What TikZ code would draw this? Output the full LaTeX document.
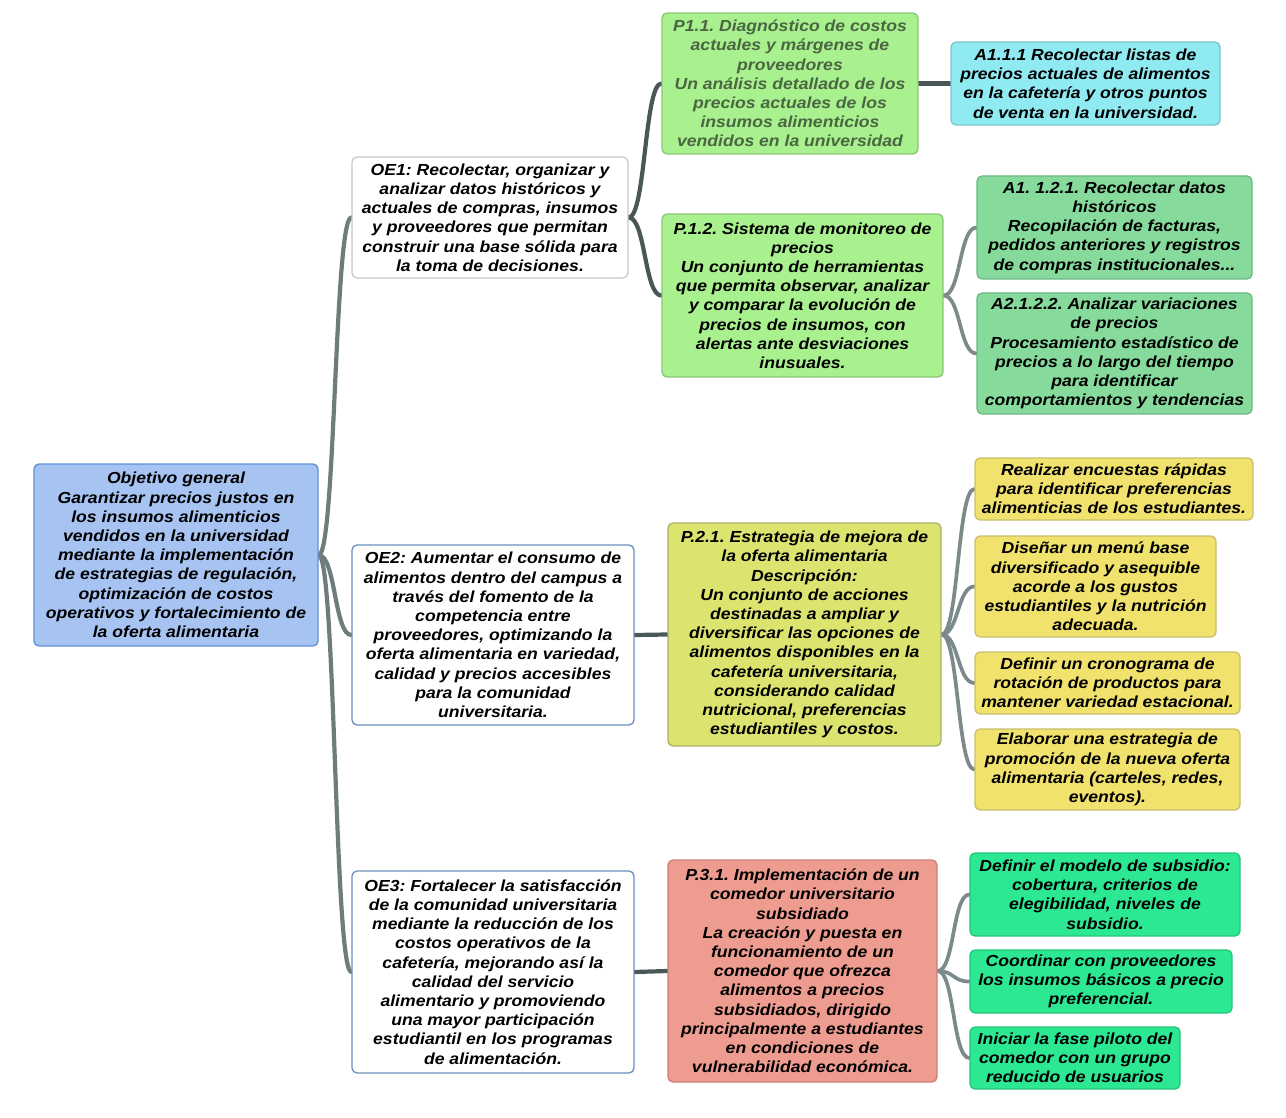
\documentclass[tikz,border=0pt]{standalone}
\usepackage{fontspec}
\setmainfont{Liberation Sans}[FakeStretch=1.1]
\usetikzlibrary{calc,backgrounds}
\frenchspacing
\definecolor{rootfill}{HTML}{A6C3F2}
\definecolor{rootdraw}{HTML}{5E8FD6}
\definecolor{oegray}{HTML}{C8C8C8}
\definecolor{oeblue}{HTML}{6A8FC0}
\definecolor{pgreen}{HTML}{A9F08E}
\definecolor{pgreend}{HTML}{8CC57A}
\definecolor{ptext}{HTML}{4A6642}
\definecolor{cyanfill}{HTML}{8FEAF2}
\definecolor{cyandraw}{HTML}{7CC3CB}
\definecolor{mgreen}{HTML}{86DA9C}
\definecolor{mgreend}{HTML}{6DB883}
\definecolor{olive}{HTML}{DCE46F}
\definecolor{olived}{HTML}{A8B06A}
\definecolor{yel}{HTML}{F0E26C}
\definecolor{yeld}{HTML}{C9BE6A}
\definecolor{salmon}{HTML}{EE9C90}
\definecolor{salmond}{HTML}{C98078}
\definecolor{spring}{HTML}{2DE893}
\definecolor{springd}{HTML}{25C479}
\definecolor{lineA}{HTML}{6F7C7E}
\definecolor{lineB}{HTML}{4A5759}
\definecolor{lineC}{HTML}{7D8A8B}
\begin{document}
\frenchspacing
\begin{tikzpicture}[x=1pt,y=-1pt,
  bx/.style={draw, rounded corners=5pt, line width=1.3pt, align=center, inner sep=0pt,
    font=\fontsize{16}{19.2}\selectfont\bfseries\itshape\frenchspacing},
  connA/.style={draw=lineA, line width=4.2pt, line cap=round},
  connB/.style={draw=lineB, line width=4.2pt, line cap=round},
  connC/.style={draw=lineC, line width=3.7pt, line cap=round}]
\useasboundingbox (0,0) rectangle (1286,1118);

\node[bx, fill=rootfill, draw=rootdraw, minimum width=284pt, minimum height=182pt] (root) at (176,555)
 {Objetivo general\\Garantizar precios justos en\\los insumos alimenticios\\vendidos en la universidad\\mediante la implementación\\de estrategias de regulación,\\optimización de costos\\operativos y fortalecimiento de\\la oferta alimentaria};

\node[bx, fill=white, draw=oegray, minimum width=276pt, minimum height=121pt] (oe1) at (490,217.5)
 {OE1: Recolectar, organizar y\\analizar datos históricos y\\actuales de compras, insumos\\y proveedores que permitan\\construir una base sólida para\\la toma de decisiones.};

\node[bx, fill=white, draw=oeblue, minimum width=282pt, minimum height=180pt] (oe2) at (493,635)
 {OE2: Aumentar el consumo de\\alimentos dentro del campus a\\través del fomento de la\\competencia entre\\proveedores, optimizando la\\oferta alimentaria en variedad,\\calidad y precios accesibles\\para la comunidad\\universitaria.};

\node[bx, fill=white, draw=oeblue, minimum width=282pt, minimum height=202pt] (oe3) at (493,972)
 {OE3: Fortalecer la satisfacción\\de la comunidad universitaria\\mediante la reducción de los\\costos operativos de la\\cafetería, mejorando así la\\calidad del servicio\\alimentario y promoviendo\\una mayor participación\\estudiantil en los programas\\de alimentación.};

\node[bx, fill=pgreen, draw=pgreend, text=ptext, minimum width=256pt, minimum height=141pt] (p11) at (790,83.5)
 {P1.1. Diagnóstico de costos\\actuales y márgenes de\\proveedores\\Un análisis detallado de los\\precios actuales de los\\insumos alimenticios\\vendidos en la universidad};

\node[bx, fill=cyanfill, draw=cyandraw, minimum width=269pt, minimum height=83pt] (a111) at (1085.5,83.5)
 {A1.1.1 Recolectar listas de\\precios actuales de alimentos\\en la cafetería y otros puntos\\de venta en la universidad.};

\node[bx, fill=pgreen, draw=pgreend, minimum width=281pt, minimum height=163pt] (p12) at (802.5,295.5)
 {P.1.2. Sistema de monitoreo de\\precios\\Un conjunto de herramientas\\que permita observar, analizar\\y comparar la evolución de\\precios de insumos, con\\alertas ante desviaciones\\inusuales.};

\node[bx, fill=mgreen, draw=mgreend, minimum width=275pt, minimum height=103pt] (a121) at (1114.5,227.5)
 {A1. 1.2.1. Recolectar datos\\históricos\\Recopilación de facturas,\\pedidos anteriores y registros\\de compras institucionales...};

\node[bx, fill=mgreen, draw=mgreend, minimum width=275pt, minimum height=121pt] (a2122) at (1114.5,353.5)
 {A2.1.2.2. Analizar variaciones\\de precios\\Procesamiento estadístico de\\precios a lo largo del tiempo\\para identificar\\comportamientos y tendencias};

\node[bx, fill=olive, draw=olived, minimum width=273pt, minimum height=223pt] (p21) at (804.5,634.5)
 {P.2.1. Estrategia de mejora de\\la oferta alimentaria\\Descripción:\\Un conjunto de acciones\\destinadas a ampliar y\\diversificar las opciones de\\alimentos disponibles en la\\cafetería universitaria,\\considerando calidad\\nutricional, preferencias\\estudiantiles y costos.};

\node[bx, fill=yel, draw=yeld, minimum width=278pt, minimum height=62pt] (y1) at (1114,489)
 {Realizar encuestas rápidas\\para identificar preferencias\\alimenticias de los estudiantes.};
\node[bx, fill=yel, draw=yeld, minimum width=241pt, minimum height=101pt] (y2) at (1095.5,586.5)
 {Diseñar un menú base\\diversificado y asequible\\acorde a los gustos\\estudiantiles y la nutrición\\adecuada.};
\node[bx, fill=yel, draw=yeld, minimum width=265pt, minimum height=62pt] (y3) at (1107.5,683)
 {Definir un cronograma de\\rotación de productos para\\mantener variedad estacional.};
\node[bx, fill=yel, draw=yeld, minimum width=265pt, minimum height=81pt] (y4) at (1107.5,769.5)
 {Elaborar una estrategia de\\promoción de la nueva oferta\\alimentaria (carteles, redes,\\eventos).};

\node[bx, fill=salmon, draw=salmond, minimum width=269pt, minimum height=222pt] (p31) at (802.5,971)
 {P.3.1. Implementación de un\\comedor universitario\\subsidiado\\La creación y puesta en\\funcionamiento de un\\comedor que ofrezca\\alimentos a precios\\subsidiados, dirigido\\principalmente a estudiantes\\en condiciones de\\vulnerabilidad económica.};

\node[bx, fill=spring, draw=springd, minimum width=270pt, minimum height=83pt] (g1) at (1105,894.5)
 {Definir el modelo de subsidio:\\cobertura, criterios de\\elegibilidad, niveles de\\subsidio.};
\node[bx, fill=spring, draw=springd, minimum width=262pt, minimum height=63pt] (g2) at (1101,981.5)
 {Coordinar con proveedores\\los insumos básicos a precio\\preferencial.};
\node[bx, fill=spring, draw=springd, minimum width=210pt, minimum height=62pt] (g3) at (1075,1058)
 {Iniciar la fase piloto del\\comedor con un grupo\\reducido de usuarios};

\begin{scope}[on background layer]
\foreach \t in {oe1,oe2,oe3}
  \path[connA] (root.east) .. controls +(17,0) and +(-17,0) .. (\t.west);
\foreach \s/\t in {oe1/p11,oe1/p12,oe2/p21,oe3/p31,p11/a111}
  \path[connB] (\s.east) .. controls +(17,0) and +(-17,0) .. (\t.west);
\foreach \s/\t in {p12/a121,p12/a2122,p21/y1,p21/y2,p21/y3,p21/y4,p31/g1,p31/g2,p31/g3}
  \path[connC] (\s.east) .. controls +(17,0) and +(-17,0) .. (\t.west);
\end{scope}
\end{tikzpicture}
\end{document}
